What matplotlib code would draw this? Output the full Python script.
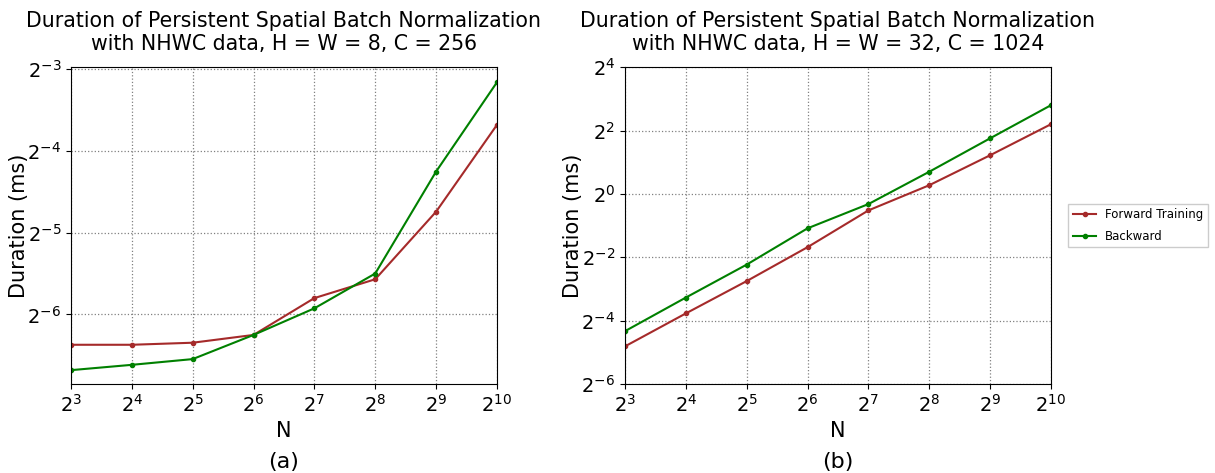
import numpy as np
import matplotlib
matplotlib.use("Agg")
import matplotlib.pyplot as plt
from matplotlib.ticker import FixedLocator, LogFormatterMathtext, NullLocator

# --- data (log2 of duration in ms) ---
N_EXP = [3, 4, 5, 6, 7, 8, 9, 10]

# (a) H = W = 8, C = 256
fwd_a = [-6.37, -6.37, -6.345, -6.25, -5.80, -5.57, -4.745, -3.685]
bwd_a = [-6.68, -6.615, -6.545, -6.25, -5.925, -5.50, -4.255, -3.165]

# (b) H = W = 32, C = 1024
fwd_b = [-4.81, -3.77, -2.75, -1.68, -0.52, 0.275, 1.22, 2.20]
bwd_b = [-4.33, -3.27, -2.23, -1.085, -0.32, 0.70, 1.755, 2.80]

TITLES = [
    "Duration of Persistent Spatial Batch Normalization\nwith NHWC data, H = W = 8, C = 256",
    "Duration of Persistent Spatial Batch Normalization\nwith NHWC data, H = W = 32, C = 1024",
]
PANEL = ["(a)", "(b)"]
YTICK_EXP = [[-6, -5, -4, -3], [-6, -4, -2, 0, 2, 4]]
YLIM_EXP = [(-6.85, -2.98), (-6, 4)]

x = np.power(2.0, N_EXP)

fig = plt.figure(figsize=(12.15, 4.73), dpi=100)
ax1 = fig.add_axes([0.0584, 0.188, 0.3506, 0.670])
ax2 = fig.add_axes([0.5144, 0.188, 0.3506, 0.670])

data = [(fwd_a, bwd_a), (fwd_b, bwd_b)]
for i, ax in enumerate([ax1, ax2]):
    fwd, bwd = data[i]
    ax.plot(x, np.power(2.0, fwd), color="#a52a2a", marker="o", markersize=3,
            linewidth=1.5, label="Forward Training")
    ax.plot(x, np.power(2.0, bwd), color="green", marker="o", markersize=3,
            linewidth=1.5, label="Backward")
    ax.set_xscale("log", base=2)
    ax.set_yscale("log", base=2)
    ax.set_xlim(2 ** 3, 2 ** 10)
    ax.set_ylim(2.0 ** YLIM_EXP[i][0], 2.0 ** YLIM_EXP[i][1])
    ax.xaxis.set_major_locator(FixedLocator(np.power(2.0, N_EXP)))
    ax.yaxis.set_major_locator(FixedLocator(np.power(2.0, YTICK_EXP[i])))
    ax.xaxis.set_minor_locator(NullLocator())
    ax.yaxis.set_minor_locator(NullLocator())
    ax.xaxis.set_major_formatter(LogFormatterMathtext(base=2))
    ax.yaxis.set_major_formatter(LogFormatterMathtext(base=2))
    ax.tick_params(labelsize=14, length=3.5)
    ax.grid(True, color="gray", linestyle=":", linewidth=0.9)
    ax.set_title(TITLES[i], fontsize=14.8, pad=12)
    ax.set_xlabel("N", fontsize=15)
    ax.set_ylabel("Duration (ms)", fontsize=15, labelpad=-1)
    ax.text(0.5, -0.245, PANEL[i], transform=ax.transAxes, ha="center",
            va="center", fontsize=16)

ax2.legend(loc="center left", bbox_to_anchor=(1.04, 0.5), borderaxespad=0,
           fontsize=8.5, labelspacing=0.7, handletextpad=0.7, fancybox=False,
           framealpha=1, edgecolor="#cccccc")

fig.savefig("out.png", dpi=100)
